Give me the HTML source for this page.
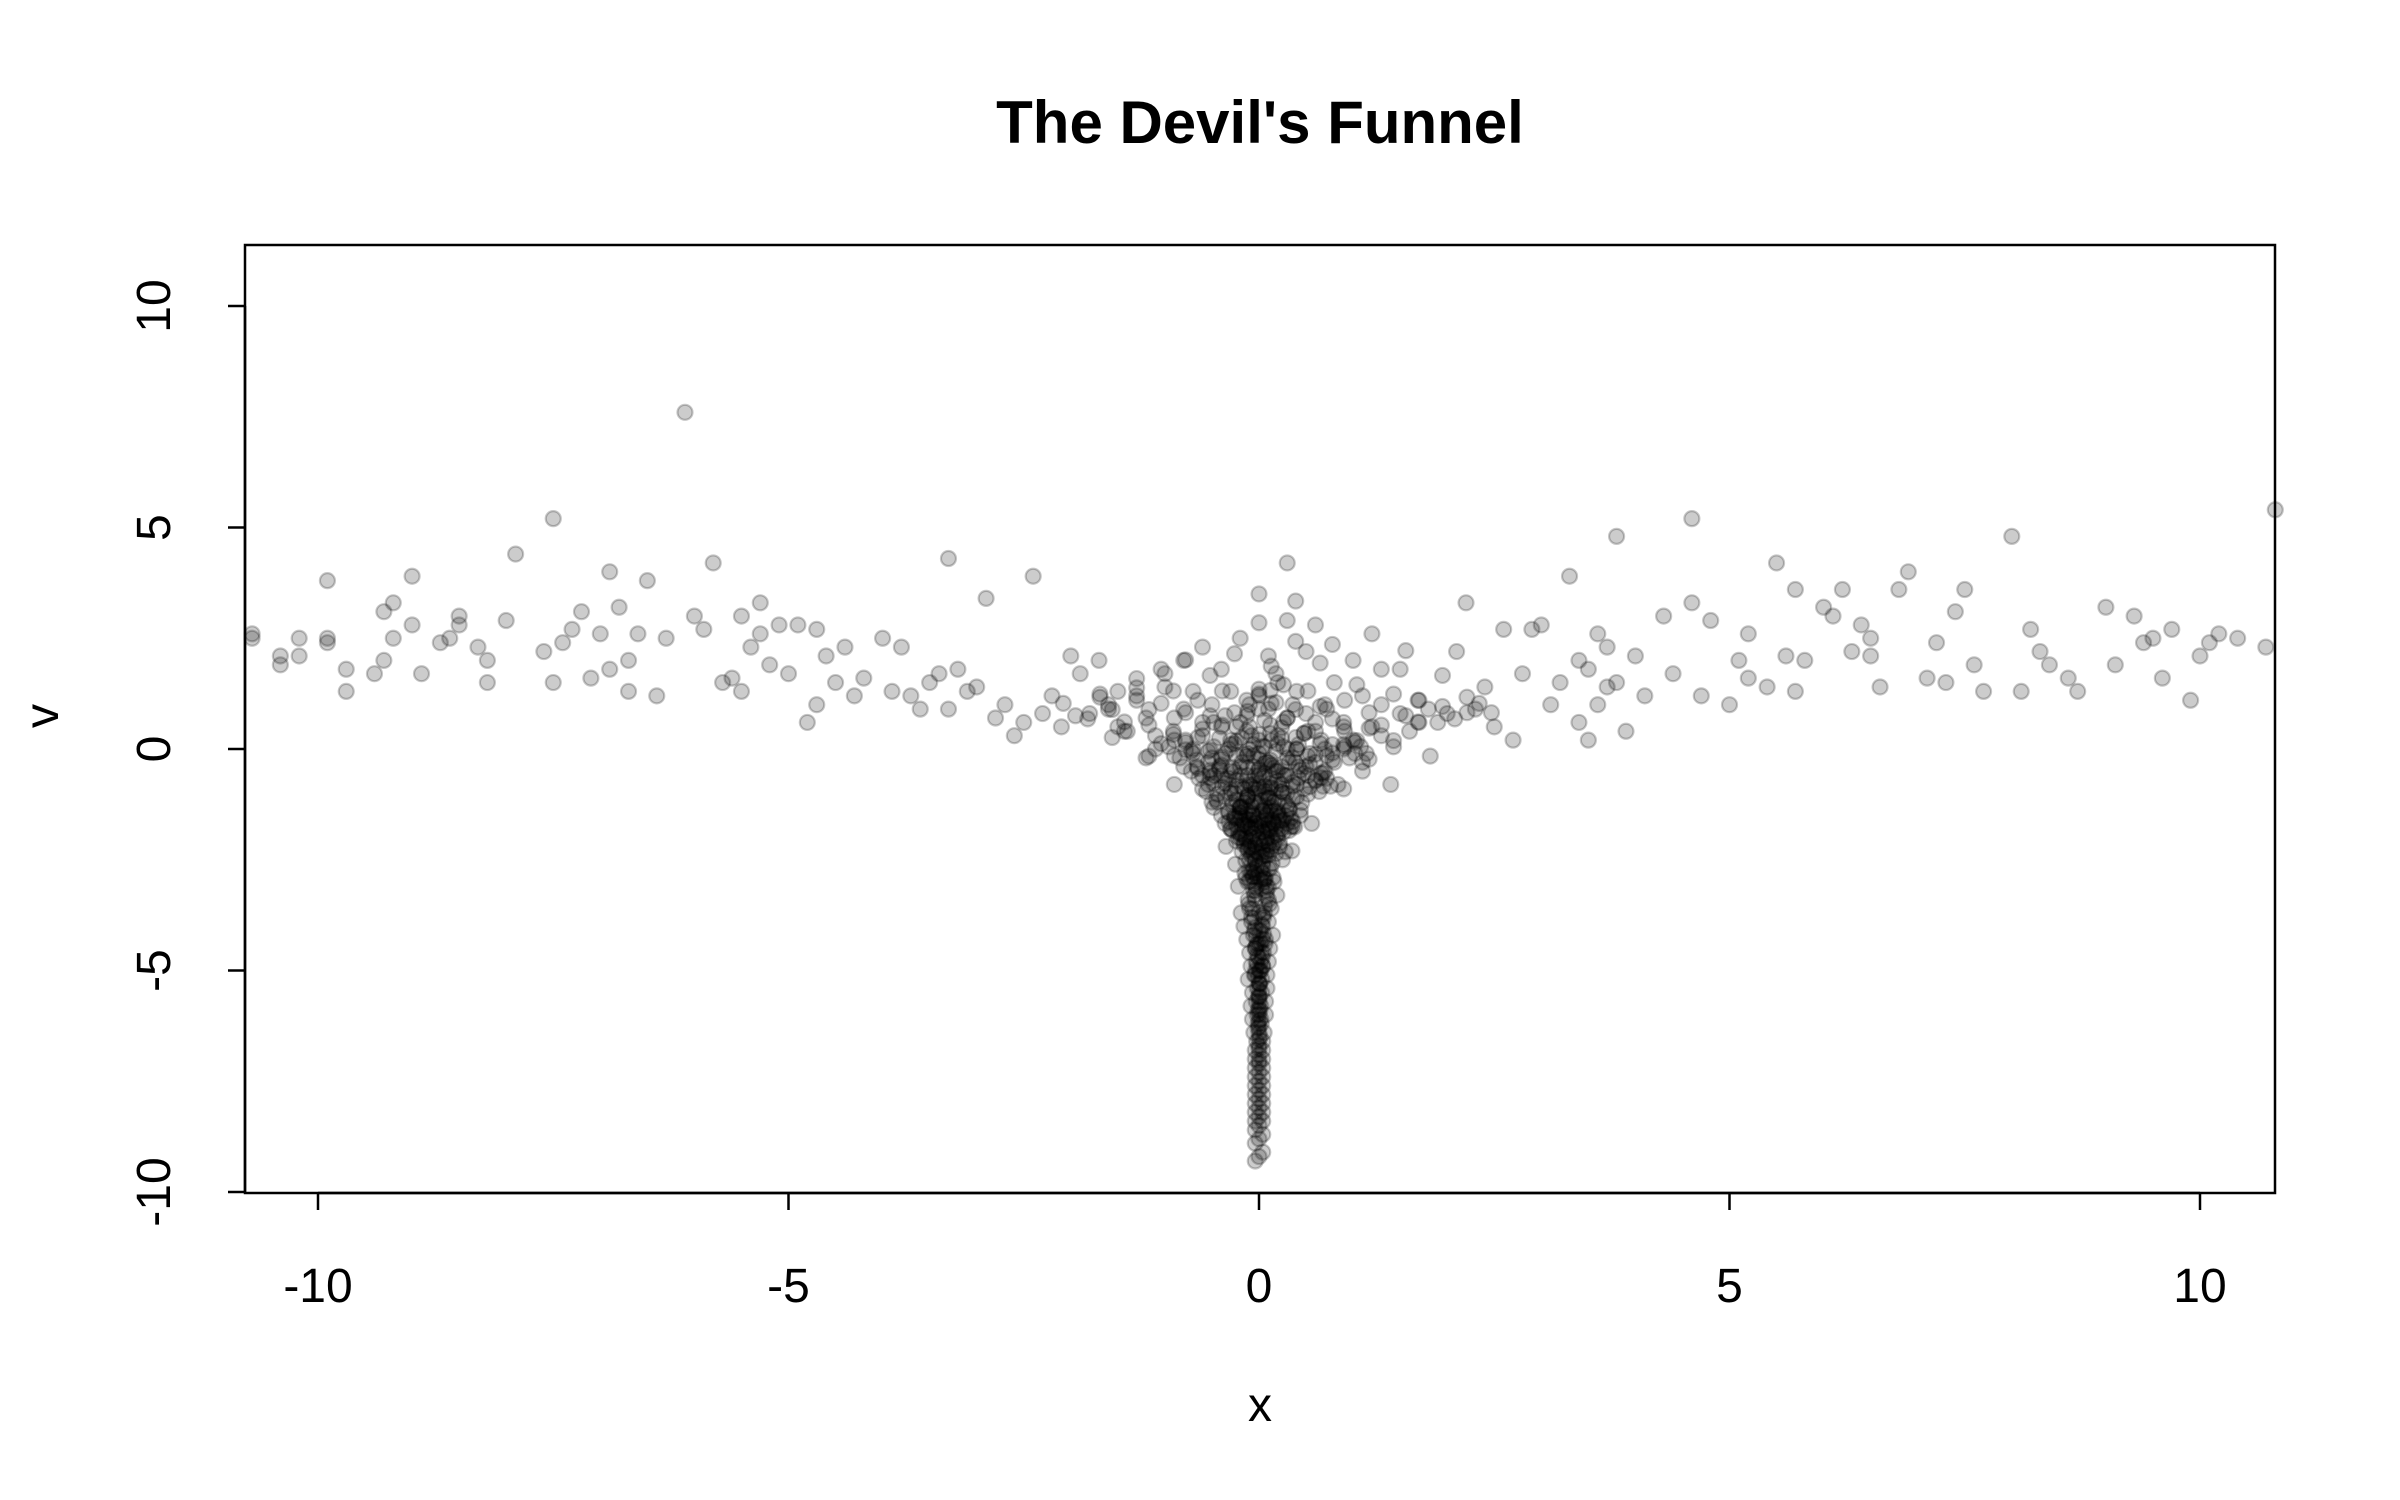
<!DOCTYPE html>
<html><head><meta charset="utf-8"><style>
html,body{margin:0;padding:0;background:#fff;}
svg{display:block;font-family:"Liberation Sans",sans-serif;}
</style></head><body>
<svg id="chart" width="2400" height="1500" viewBox="0 0 2400 1500" xmlns="http://www.w3.org/2000/svg">
<rect width="2400" height="1500" fill="#fff"/>
<text x="1260" y="143" font-size="60" font-weight="bold" text-anchor="middle">The Devil's Funnel</text>
<rect x="245" y="245" width="2030" height="948" fill="none" stroke="#000" stroke-width="2.5"/>
<g id="points"></g>
<g id="xaxis"></g>
<g id="yaxis"></g>
<text x="1260" y="1421" font-size="48" text-anchor="middle">x</text>
<text transform="translate(58,716) rotate(-90)" font-size="48" text-anchor="middle">v</text>
</svg>
<script>
const xTicks=[-10,-5,0,5,10];
const yTicks=[-10,-5,0,5,10];
const xTickLabels=["-10","-5","0","5","10"];
const yTickLabels=["-10","-5","0","5","10"];
const wingX=[-10.7,-10.7,-10.4,-10.4,-10.2,-10.2,-9.9,-9.9,-9.9,-9.7,-9.7,-9.4,-9.3,-9.3,-9.2,-9.2,-9.0,-9.0,-8.9,-8.7,-8.6,-8.5,-8.5,-8.3,-8.2,-8.2,-8.0,-7.9,-7.6,-7.5,-7.5,-7.4,-7.3,-7.2,-7.1,-7.0,-6.9,-6.9,-6.8,-6.7,-6.7,-6.6,-6.5,-6.4,-6.3,-6.1,-6.0,-5.9,-5.8,-5.7,-5.6,-5.5,-5.5,-5.4,-5.3,-5.3,-5.2,-5.1,-5.0,-4.9,-4.8,-4.7,-4.7,-4.6,-4.5,-4.4,-4.3,-4.2,-4.0,-3.9,-3.8,-3.7,-3.6,-3.5,-3.4,-3.3,-3.3,-3.2,-3.1,-3.0,-2.9,-2.8,-2.7,-2.6,-2.5,-2.4,-2.3,-2.2,-2.1,-2.0,-1.9,-1.8,-1.7,-1.6,-1.5,
2.0,2.1,2.2,2.3,2.4,2.5,2.6,2.7,2.8,2.9,3.0,3.1,3.2,3.3,3.4,3.4,3.5,3.5,3.6,3.6,3.7,3.7,3.8,3.8,3.9,4.0,4.1,4.3,4.4,4.6,4.6,4.7,4.8,5.0,5.1,5.2,5.2,5.4,5.5,5.6,5.7,5.7,5.8,6.0,6.1,6.2,6.3,6.4,6.5,6.5,6.6,6.8,6.9,7.1,7.2,7.3,7.4,7.5,7.6,7.7,8.0,8.1,8.2,8.3,8.4,8.6,8.7,9.0,9.1,9.3,9.4,9.5,9.6,9.7,9.9,10.0,10.1,10.2,10.4,10.7,10.8];
const wingY=[2.6,2.5,1.9,2.1,2.5,2.1,2.4,3.8,2.5,1.8,1.3,1.7,2.0,3.1,3.3,2.5,3.9,2.8,1.7,2.4,2.5,2.8,3.0,2.3,2.0,1.5,2.9,4.4,2.2,5.2,1.5,2.4,2.7,3.1,1.6,2.6,4.0,1.8,3.2,2.0,1.3,2.6,3.8,1.2,2.5,7.6,3.0,2.7,4.2,1.5,1.6,3.0,1.3,2.3,3.3,2.6,1.9,2.8,1.7,2.8,0.6,2.7,1.0,2.1,1.5,2.3,1.2,1.6,2.5,1.3,2.3,1.2,0.9,1.5,1.7,4.3,0.9,1.8,1.3,1.4,3.4,0.7,1.0,0.3,0.6,3.9,0.8,1.2,0.5,2.1,1.7,0.8,2.0,1.0,1.3,
0.8,2.2,3.3,0.9,1.4,0.5,2.7,0.2,1.7,2.7,2.8,1.0,1.5,3.9,0.6,2.0,1.8,0.2,2.6,1.0,1.4,2.3,1.5,4.8,0.4,2.1,1.2,3.0,1.7,3.3,5.2,1.2,2.9,1.0,2.0,2.6,1.6,1.4,4.2,2.1,3.6,1.3,2.0,3.2,3.0,3.6,2.2,2.8,2.5,2.1,1.4,3.6,4.0,1.6,2.4,1.5,3.1,3.6,1.9,1.3,4.8,1.3,2.7,2.2,1.9,1.6,1.3,3.2,1.9,3.0,2.4,2.5,1.6,2.7,1.1,2.1,2.4,2.6,2.5,2.3,5.4,4.3];
const coreX=[-1.3,-1.2,-1.1,-1.0,-0.9,-0.9,-0.8,-0.8,-0.7,-0.7,-0.6,-0.6,-0.6,-0.5,-0.5,-0.5,-0.4,-0.4,-0.4,-0.4,-0.3,-0.3,-0.3,-0.3,-0.2,-0.2,-0.2,-0.2,-0.2,-0.1,-0.1,-0.1,-0.1,-0.1,-0.1,0.0,0.0,0.0,0.0,0.1,0.1,0.1,0.1,0.1,0.1,0.2,0.2,0.2,0.2,0.2,0.3,0.3,0.3,0.3,0.4,0.4,0.4,0.5,0.5,0.5,0.6,0.6,0.7,0.7,0.8,0.8,0.9,0.9,1.0,1.0,1.1,1.1,1.2,1.3,1.4,1.5,1.6,1.7,1.8,1.9,-1.4,-1.0,-0.8,0.3,0.6,1.2,-0.25,0.25,-0.15,0.15,-0.35,0.35,-1.6,-1.5,-1.3,-1.1,-0.9,-1.2,1.3,1.5,1.1,0.9,1.7,-0.7,0.7];
const coreY=[1.2,0.7,0.3,1.4,0.2,-0.8,0.9,-0.4,1.3,0.0,0.6,-0.6,2.3,1.0,-0.2,-1.2,0.5,-0.6,1.8,-1.5,0.2,-0.9,-1.8,1.3,0.6,-0.4,-1.3,-2.0,2.5,1.0,0.0,-0.8,-1.6,-2.2,0.5,3.5,1.2,-0.1,-0.9,0.9,-0.3,-1.1,-1.8,-2.4,2.1,1.5,0.3,-0.5,-1.4,-2.0,0.7,-0.2,-1.0,2.9,1.3,0.0,-0.8,0.8,-0.4,2.2,0.4,-0.7,1.0,0.0,1.5,-0.3,0.6,-0.9,2.0,0.2,1.2,-0.5,0.5,1.0,-0.8,1.8,0.4,1.1,0.9,0.6,0.4,1.7,2.0,4.2,2.8,2.6,-2.6,-2.5,-2.8,-2.9,-2.2,-2.3,0.9,0.5,1.1,0.0,0.7,-0.2,0.3,0.8,-0.3,0.1,0.6,-0.1,-0.5];
const stemX=[-0.12,0.08,-0.05,0.1,-0.1,0.06,-0.08,0.04,-0.06,0.07,-0.04,0.05,-0.03,0.04,-0.05,0.03,-0.02,0.03,-0.03,0.02,-0.02,0.02,-0.01,0.01,0.0,0.0,0.0,0.0,0.0,0.0,0.0,0.0,0.0,0.0,0.0,0.0,0.0,0.0];
const stemY=[-3.0,-3.1,-3.3,-3.4,-3.6,-3.7,-3.9,-4.0,-4.2,-4.3,-4.5,-4.6,-4.8,-4.9,-5.1,-5.2,-5.4,-5.5,-5.7,-5.8,-6.0,-6.1,-6.3,-6.5,-6.7,-6.9,-7.1,-7.3,-7.5,-7.7,-7.9,-8.1,-8.3,-8.5,-8.8,-9.2,-5.0,-4.4];
function sx(v){return 1259+(v)*94.1;}
function sy(v){return 749-(v)*44.3;}
const NS="http://www.w3.org/2000/svg";
const pg=document.getElementById('points');
function plot(xs,ys,name){
  for(let i=0;i<xs.length;i++){
    const c=document.createElementNS(NS,'circle');
    
    
    c.setAttribute('cx',sx(xs[i]));c.setAttribute('cy',sy(ys[i]));c.setAttribute('r',7.5);
    c.setAttribute('fill','rgba(0,0,0,0.2)');c.setAttribute('stroke','rgba(0,0,0,0.22)');c.setAttribute('stroke-width','2.2');
    pg.appendChild(c);
  }
}
plot(wingX,wingY,'wing-point');
plot(coreX,coreY,'core-point');
plot(coreX.map(v=>v*1.3),coreY.map(v=>v*0.7+0.4),'core-point');
plot(stemX,stemY,'stem-point');
plot(stemX.map(v=>v*1.5+0.04),stemY.map(v=>v+0.1),'stem-point');
plot(stemX.map(v=>v*1.5-0.04),stemY.map(v=>v-0.1),'stem-point');
plot(stemX.map(v=>-v),stemY.map(v=>v*0.7-0.6),'stem-point');
plot(coreX.map(v=>v*0.4),coreY.map(v=>v*0.6-1.2),'dense-point');
plot(coreX.map(v=>v*0.2),coreY.map(v=>v*0.4-2.0),'dense-point');
plot(coreX.map(v=>v*0.6),coreY.map(v=>v*0.5-0.4),'dense-point');
const xa=document.getElementById('xaxis');
const ln=(g,x1,y1,x2,y2,n)=>{const l=document.createElementNS(NS,'line');


l.setAttribute('x1',x1);l.setAttribute('y1',y1);l.setAttribute('x2',x2);l.setAttribute('y2',y2);l.setAttribute('stroke','#000');l.setAttribute('stroke-width','2.5');g.appendChild(l);};
ln(xa,sx(xTicks[0]),1193,sx(xTicks[xTicks.length-1]),1193,'x-axis-line');
xTicks.forEach((t,i)=>{ln(xa,sx(t),1193,sx(t),1210,'x-tick');
const tx=document.createElementNS(NS,'text');


tx.setAttribute('x',sx(t));tx.setAttribute('y',1302);tx.setAttribute('font-size','48');tx.setAttribute('text-anchor','middle');tx.textContent=xTickLabels[i];xa.appendChild(tx);});
const ya=document.getElementById('yaxis');
ln(ya,245,sy(yTicks[0]),245,sy(yTicks[yTicks.length-1]),'y-axis-line');
yTicks.forEach((t,i)=>{ln(ya,228,sy(t),245,sy(t),'y-tick');
const tx=document.createElementNS(NS,'text');


tx.setAttribute('transform','translate(170,'+sy(t)+') rotate(-90)');tx.setAttribute('font-size','48');tx.setAttribute('text-anchor','middle');tx.textContent=yTickLabels[i];ya.appendChild(tx);});
</script>
</body></html>
